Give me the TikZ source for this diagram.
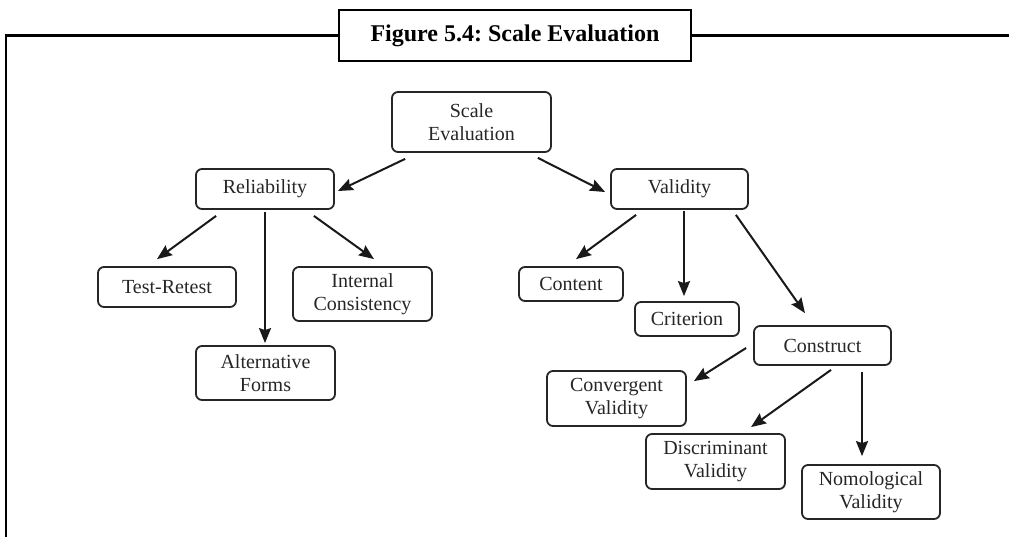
\documentclass[tikz,border=0pt]{standalone}
\usepackage{fontspec}
\setmainfont{Liberation Serif}
\usetikzlibrary{arrows.meta,calc}
\tikzset{
  bx/.style={draw=black!85, line width=1.8pt, rounded corners=6pt, align=center,
    inner sep=0pt, font=\fontsize{20}{23}\selectfont, text=black!85},
  arr/.style={draw=black!90, line width=2pt, -{Stealth[length=15pt,width=12pt,inset=2pt]}},
  frame/.style={draw=black, line width=2.8pt}
}
\begin{document}
\begin{tikzpicture}[x=1pt,y=-1pt]
\useasboundingbox (0,0) rectangle (1009,536);
% frame and title
\node[frame, minimum width=352pt, minimum height=51pt, inner sep=0pt,
  font=\fontsize{24}{26}\selectfont\bfseries] (title) at (515,35.5) {Figure 5.4:\ Scale\ Evaluation};
\coordinate (fl) at (6,35.5);
\coordinate (fb) at (6,536);
\coordinate (fr) at (1009,35.5);
\draw[frame, line cap=rect] (title.west) -- (fl) -- (fb);
\draw[frame] (title.east) -- (fr);
% nodes
\node[bx, minimum width=159pt, minimum height=60pt] (scale) at (471.5,122) {Scale\\Evaluation};
\node[bx, minimum width=138pt, minimum height=40pt] (rel) at (265,189) {Reliability};
\node[bx, minimum width=137pt, minimum height=40pt] (val) at (679.5,189) {Validity};
\node[bx, minimum width=138pt, minimum height=40pt] (test) at (167,287) {Test-Retest};
\node[bx, minimum width=139pt, minimum height=54pt] (int) at (362.5,294) {Internal\\Consistency};
\node[bx, minimum width=139pt, minimum height=54pt] (alt) at (265.5,373) {Alternative\\Forms};
\node[bx, minimum width=104pt, minimum height=34pt] (cont) at (571,284) {Content};
\node[bx, minimum width=104pt, minimum height=34pt] (crit) at (687,319) {Criterion};
\node[bx, minimum width=137pt, minimum height=39pt] (cons) at (822.5,345.5) {Construct};
\node[bx, minimum width=139pt, minimum height=55pt] (conv) at (616.5,398.5) {Convergent\\Validity};
\node[bx, minimum width=139pt, minimum height=55pt] (disc) at (715.5,461.5) {Discriminant\\Validity};
\node[bx, minimum width=138pt, minimum height=54pt] (nomo) at (871,492) {Nomological\\Validity};
% connectors
\draw[arr] ([shift={(14,6)}]scale.south west) -- ([shift={(3,2)}]rel.east);
\draw[arr] ([shift={(-14,5)}]scale.south east) -- ([shift={(-5,3)}]val.west);
\draw[arr] ([shift={(21,6)}]rel.south west) -- ([shift={(-10,-7)}]test.north);
\draw[arr] ([shift={(0,2)}]rel.south) -- ([shift={(-0.5,-2)}]alt.north);
\draw[arr] ([shift={(-21,6)}]rel.south east) -- ([shift={(11.5,-7)}]int.north);
\draw[arr] ([shift={(26,5)}]val.south west) -- ([shift={(5,-7)}]cont.north);
\draw[arr] ([shift={(4.5,1)}]val.south) -- ([shift={(-3,-5)}]crit.north);
\draw[arr] ([shift={(-13,5)}]val.south east) -- ([shift={(-17.5,-12)}]cons.north);
\draw[arr] ([shift={(-7,2.5)}]cons.west) -- ([shift={(7,11)}]conv.north east);
\draw[arr] ([shift={(8.5,4)}]cons.south) -- ([shift={(35.5,-6)}]disc.north);
\draw[arr] ([shift={(39.5,6)}]cons.south) -- ([shift={(-9,-8)}]nomo.north);
\end{tikzpicture}
\end{document}
